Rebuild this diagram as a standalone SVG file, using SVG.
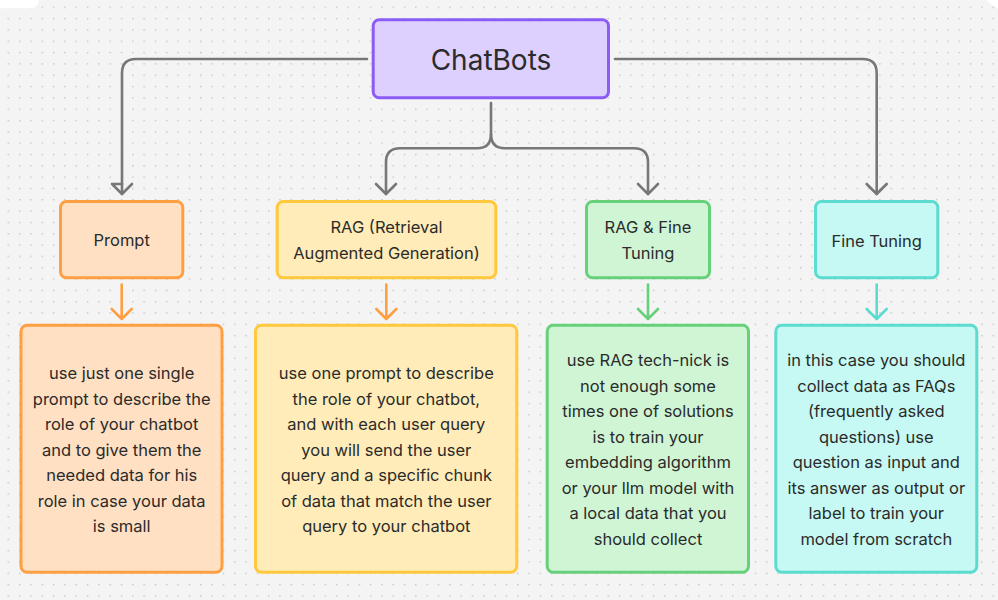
<svg xmlns="http://www.w3.org/2000/svg" width="998" height="600" viewBox="0 0 998 600">
<defs>
<pattern id="dots" x="7.6" y="6.6" width="11.32" height="11.32" patternUnits="userSpaceOnUse">
<rect x="0" y="0" width="1.4" height="1.4" fill="#c4c4c4"/>
</pattern>
<style>
.t{font-family:Inter,"Noto Sans","Liberation Sans",sans-serif;font-size:16.5px;fill:#2b2b2b;text-anchor:middle}
.h{font-size:28px}
.box{stroke-width:3}
.con{fill:none;stroke:#777777;stroke-width:2.6;stroke-linecap:round;stroke-linejoin:round}
.ar{fill:none;stroke-width:2.6;stroke-linecap:round;stroke-linejoin:round}
</style>
</defs>
<rect width="998" height="600" fill="#f4f4f4"/>
<rect width="998" height="600" fill="url(#dots)"/>
<rect x="-20" y="-20" width="59" height="28.3" rx="8" fill="#ffffff"/>
<circle cx="1004" cy="-12" r="21" fill="#ffffff"/>

<g id="connectors">
<path class="con" d="M367 59 H136 Q122 59 122 73 V194"/>
<path class="con" d="M122 184 L112 184 M112 184 L122 194 L132 184"/>
<path class="con" d="M615 59 H862.7 Q876.7 59 876.7 73 V194"/>
<path class="con" d="M866.7 184 L876.7 194 L886.7 184"/>
<path class="con" d="M491 103 V134 Q491 148.3 477 148.3 H400 Q386 148.3 386 162.3 V194"/>
<path class="con" d="M491 134 Q491 148.3 505 148.3 H634 Q648 148.3 648 162.3 V194"/>
<path class="con" d="M376 184 L386 194 L396 184"/>
<path class="con" d="M638 184 L648 194 L658 184"/>
<path class="ar" stroke="#ff9f43" d="M121.7 284.5 V319 M111.7 309 L121.7 319 L131.7 309"/>
<path class="ar" stroke="#ff9f43" d="M386.3 284.5 V319 M376.3 309 L386.3 319 L396.3 309"/>
<path class="ar" stroke="#66d17a" d="M648 284.5 V319 M638 309 L648 319 L658 309"/>
<path class="ar" stroke="#5cdbd0" d="M876.7 284.5 V319 M866.7 309 L876.7 319 L886.7 309"/>
</g>

<g id="chatbots">
<rect class="box" x="373.2" y="19.8" width="235.3" height="78" rx="6" fill="#ddd0ff" stroke="#8b5cf6"/>
<text class="t h" x="491" y="70">ChatBots</text>
</g>

<g id="prompt">
<rect class="box" x="60.5" y="201.5" width="122.3" height="76.3" rx="6" fill="#ffe0c2" stroke="#ff9f43"/>
<text class="t" x="121.7" y="246">Prompt</text>
</g>

<g id="rag">
<rect class="box" x="277.2" y="201.5" width="218.6" height="76.3" rx="6" fill="#ffecb8" stroke="#ffc83d"/>
<text class="t" x="386.5" y="233.3">RAG (Retrieval</text>
<text class="t" x="386.5" y="258.8">Augmented Generation)</text>
</g>

<g id="ragft">
<rect class="box" x="586.5" y="201.5" width="123" height="76.3" rx="6" fill="#cff5d5" stroke="#66d17a"/>
<text class="t" x="648" y="233.3">RAG &amp; Fine</text>
<text class="t" x="648" y="258.8">Tuning</text>
</g>

<g id="finetuning">
<rect class="box" x="815.5" y="201.5" width="122.3" height="76.3" rx="6" fill="#c6f9f3" stroke="#5cdbd0"/>
<text class="t" x="876.7" y="246.5">Fine Tuning</text>
</g>

<g id="prompt-desc">
<rect class="box" x="21" y="325.3" width="201" height="247" rx="6" fill="#ffe0c2" stroke="#ff9f43"/>
<text class="t" x="121.7" y="379">use just one single</text>
<text class="t" x="121.7" y="404.5">prompt to describe the</text>
<text class="t" x="121.7" y="430">role of your chatbot</text>
<text class="t" x="121.7" y="455.5">and to give them the</text>
<text class="t" x="121.7" y="481">needed data for his</text>
<text class="t" x="121.7" y="506.5">role in case your data</text>
<text class="t" x="121.7" y="532">is small</text>
</g>

<g id="rag-desc">
<rect class="box" x="255.5" y="325.3" width="261.3" height="247" rx="6" fill="#ffecb8" stroke="#ffc83d"/>
<text class="t" x="386.3" y="379">use one prompt to describe</text>
<text class="t" x="386.3" y="404.5">the role of your chatbot,</text>
<text class="t" x="386.3" y="430">and with each user query</text>
<text class="t" x="386.3" y="455.5">you will send the user</text>
<text class="t" x="386.3" y="481">query and a specific chunk</text>
<text class="t" x="386.3" y="506.5">of data that match the user</text>
<text class="t" x="386.3" y="532">query to your chatbot</text>
</g>

<g id="ragft-desc">
<rect class="box" x="547.2" y="325.3" width="201.3" height="247" rx="6" fill="#cff5d5" stroke="#66d17a"/>
<text class="t" x="648" y="366.3">use RAG tech-nick is</text>
<text class="t" x="648" y="391.8">not enough some</text>
<text class="t" x="648" y="417.3">times one of solutions</text>
<text class="t" x="648" y="442.8">is to train your</text>
<text class="t" x="648" y="468.3">embedding algorithm</text>
<text class="t" x="648" y="493.8">or your llm model with</text>
<text class="t" x="648" y="519.3">a local data that you</text>
<text class="t" x="648" y="544.8">should collect</text>
</g>

<g id="finetuning-desc">
<rect class="box" x="775.8" y="325.3" width="201" height="247" rx="6" fill="#c6f9f3" stroke="#5cdbd0"/>
<text class="t" x="876.3" y="366.3">in this case you should</text>
<text class="t" x="876.3" y="391.8">collect data as FAQs</text>
<text class="t" x="876.3" y="417.3">(frequently asked</text>
<text class="t" x="876.3" y="442.8">questions) use</text>
<text class="t" x="876.3" y="468.3">question as input and</text>
<text class="t" x="876.3" y="493.8">its answer as output or</text>
<text class="t" x="876.3" y="519.3">label to train your</text>
<text class="t" x="876.3" y="544.8">model from scratch</text>
</g>
</svg>
